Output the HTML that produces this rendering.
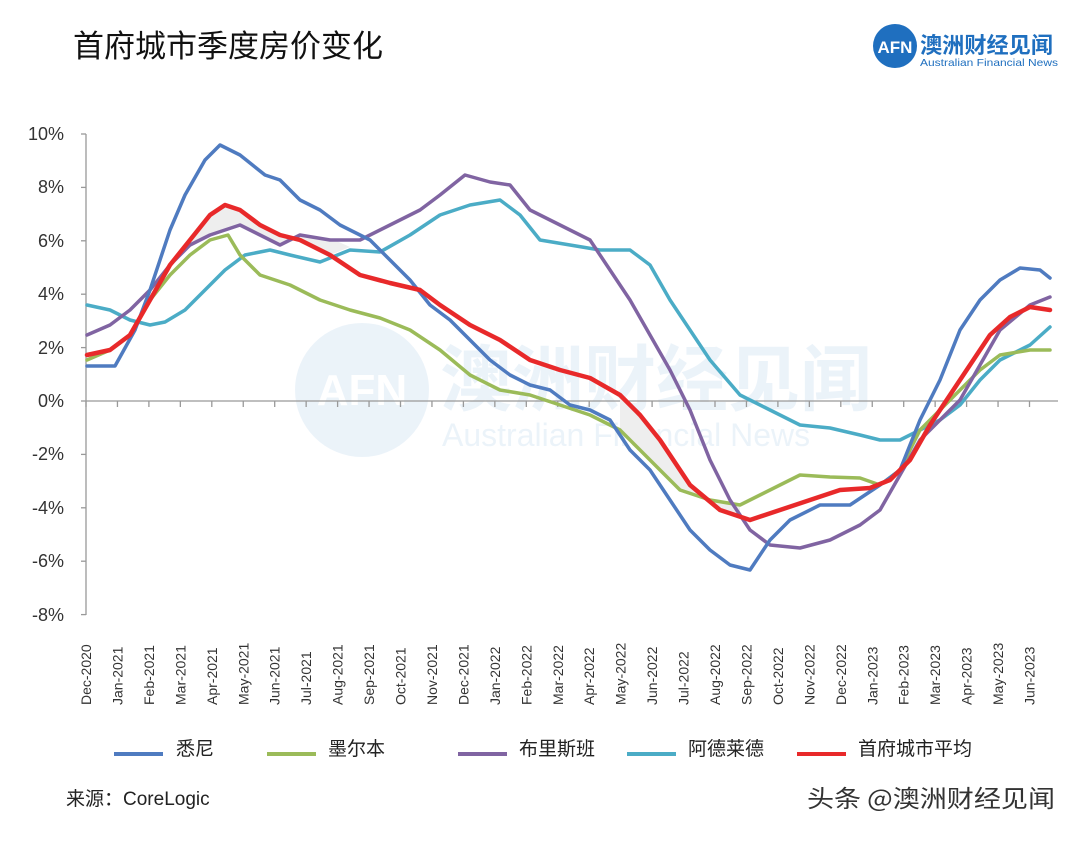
<!DOCTYPE html>
<html><head><meta charset="utf-8"><style>
body{margin:0;background:#fff;width:1080px;height:836px;overflow:hidden;font-family:"Liberation Sans","Noto Sans CJK SC",sans-serif;}
</style></head><body>
<svg width="1080" height="836" xmlns="http://www.w3.org/2000/svg" font-family="Liberation Sans, Noto Sans CJK SC, sans-serif">
<text x="73" y="57" font-size="31" fill="#111" font-family="Noto Sans CJK SC, sans-serif">首府城市季度房价变化</text>
<circle cx="895" cy="46" r="22" fill="#1f6fbf"/>
<text x="895" y="53" font-size="17" fill="#fff" text-anchor="middle" font-weight="bold">AFN</text>
<text x="920" y="53" font-size="22" fill="#1f6fbf" font-family="Noto Sans CJK SC, sans-serif" font-weight="bold" textLength="133" lengthAdjust="spacingAndGlyphs">澳洲财经见闻</text>
<text x="920" y="66" font-size="10.5" fill="#1f6fbf" textLength="138" lengthAdjust="spacingAndGlyphs">Australian Financial News</text>
<!-- watermark -->
<g opacity="0.16">
<circle cx="362" cy="390" r="67" fill="#8bb6e0"/>
<text x="362" y="405" font-size="44" fill="#fff" text-anchor="middle" font-weight="bold">AFN</text>
<text x="440" y="405" font-size="72" fill="#8bb6e0" font-family="Noto Sans CJK SC, sans-serif" font-weight="bold">澳洲财经见闻</text>
<text x="442" y="446" font-size="32" fill="#8bb6e0">Australian Financial News</text>
</g>
<g stroke="#999" stroke-width="1.3" fill="none">
<line x1="86" y1="134" x2="86" y2="615"/>
<line x1="86" y1="401" x2="1058" y2="401"/>
<line x1="81" y1="134" x2="86" y2="134"/><line x1="81" y1="187.4" x2="86" y2="187.4"/><line x1="81" y1="240.8" x2="86" y2="240.8"/><line x1="81" y1="294.2" x2="86" y2="294.2"/><line x1="81" y1="347.6" x2="86" y2="347.6"/><line x1="81" y1="401" x2="86" y2="401"/><line x1="81" y1="454.4" x2="86" y2="454.4"/><line x1="81" y1="507.8" x2="86" y2="507.8"/><line x1="81" y1="561.2" x2="86" y2="561.2"/><line x1="81" y1="614.6" x2="86" y2="614.6"/>
</g>
<g id="ticks" stroke="#999" stroke-width="1.3"></g>
<g font-size="18" fill="#333" text-anchor="end">
<text x="64" y="140">10%</text><text x="64" y="193">8%</text><text x="64" y="247">6%</text><text x="64" y="300">4%</text><text x="64" y="354">2%</text><text x="64" y="407">0%</text><text x="64" y="460">-2%</text><text x="64" y="514">-4%</text><text x="64" y="567">-6%</text><text x="64" y="621">-8%</text>
</g>
<g id="xl" font-size="14" fill="#333"></g>
<path d="M150,300 L170,265 190,240 210,215 225,205 240,210 260,225 280,235 300,240 330,255 L350,247 330,238 300,235 280,245 260,235 240,225 210,235 190,245 170,265 Z" fill="#eee"/>
<path d="M620,395 640,415 660,440 690,485 720,510 740,517 L740,505 710,500 680,490 650,460 620,430 Z" fill="#eee"/>
<g fill="none" stroke-width="3.5" stroke-linejoin="round" stroke-linecap="round">
<polyline stroke="#4bacc6" points="87,305 110,310 130,320 150,325 165,322 185,310 205,290 225,270 245,255 270,250 290,255 320,262 350,250 380,252 410,235 440,215 470,205 500,200 520,215 540,240 570,245 600,250 630,250 650,265 670,300 690,330 710,360 740,395 770,410 800,425 830,428 860,435 880,440 900,440 920,430 940,420 960,405 980,380 1000,360 1030,345 1050,327"/>
<polyline stroke="#9bbb59" points="87,360 110,350 130,335 150,300 170,275 190,255 210,240 228,235 240,255 260,275 290,285 320,300 350,310 380,318 410,330 440,350 470,375 500,390 530,395 560,405 590,415 620,430 650,460 680,490 710,500 740,505 760,495 780,485 800,475 830,477 860,478 880,485 900,470 920,430 940,410 960,390 980,370 1000,355 1030,350 1050,350"/>
<polyline stroke="#8064a2" points="87,335 110,325 130,310 150,290 170,265 190,245 210,235 240,225 260,235 280,245 300,235 330,240 360,240 390,225 420,210 440,195 465,175 490,182 510,185 530,210 560,225 590,240 610,270 630,300 650,335 670,370 690,410 710,460 730,500 750,530 770,545 800,548 830,540 860,525 880,510 900,475 920,440 940,420 960,400 980,365 1000,330 1030,305 1050,297"/>
<polyline stroke="#4f7bc0" points="87,366 115,366 135,330 150,290 170,230 185,195 205,160 220,145 240,155 265,175 280,180 300,200 320,210 340,225 370,240 390,260 410,280 430,305 450,320 470,340 490,360 510,375 530,385 550,390 570,405 590,410 610,420 630,450 650,470 670,500 690,530 710,550 730,565 750,570 770,540 790,520 820,505 850,505 880,485 900,470 920,420 940,380 960,330 980,300 1000,280 1020,268 1040,270 1050,278"/>
<polyline stroke="#e8292a" stroke-width="4.5" points="87,355 110,350 130,335 150,300 170,265 190,240 210,215 225,205 240,210 260,225 280,235 300,240 330,255 360,275 390,283 420,290 440,305 470,325 500,340 530,360 560,370 590,378 620,395 640,415 660,440 690,485 720,510 750,520 780,510 810,500 840,490 870,488 890,480 910,460 930,425 950,395 970,365 990,335 1010,317 1030,307 1050,310"/>
</g>
<g font-size="19" fill="#222" font-family="Noto Sans CJK SC, sans-serif">
<line x1="114" y1="754" x2="163" y2="754" stroke="#4f7bc0" stroke-width="4"/><text x="176" y="755">悉尼</text>
<line x1="267" y1="754" x2="316" y2="754" stroke="#9bbb59" stroke-width="4"/><text x="328" y="755">墨尔本</text>
<line x1="458" y1="754" x2="507" y2="754" stroke="#8064a2" stroke-width="4"/><text x="519" y="755">布里斯班</text>
<line x1="627" y1="754" x2="676" y2="754" stroke="#4bacc6" stroke-width="4"/><text x="688" y="755">阿德莱德</text>
<line x1="797" y1="754" x2="846" y2="754" stroke="#e8292a" stroke-width="4"/><text x="858" y="755">首府城市平均</text>
<text x="66" y="805" font-size="19">来源：<tspan font-family="Liberation Sans">CoreLogic</tspan></text>
<text x="807" y="807" font-size="24" fill="#333" textLength="248" lengthAdjust="spacingAndGlyphs">头条 @澳洲财经见闻</text>
</g>
</svg>
<script>
var m=["Dec-2020","Jan-2021","Feb-2021","Mar-2021","Apr-2021","May-2021","Jun-2021","Jul-2021","Aug-2021","Sep-2021","Oct-2021","Nov-2021","Dec-2021","Jan-2022","Feb-2022","Mar-2022","Apr-2022","May-2022","Jun-2022","Jul-2022","Aug-2022","Sep-2022","Oct-2022","Nov-2022","Dec-2022","Jan-2023","Feb-2023","Mar-2023","Apr-2023","May-2023","Jun-2023"];
var ns="http://www.w3.org/2000/svg",xl=document.getElementById("xl"),tk=document.getElementById("ticks");
for(var i=0;i<31;i++){var x=86+i*31.45;
var l=document.createElementNS(ns,"line");l.setAttribute("x1",x);l.setAttribute("x2",x);l.setAttribute("y1",401);l.setAttribute("y2",407);tk.appendChild(l);
var t=document.createElementNS(ns,"text");t.setAttribute("transform","translate("+(x+5)+",705) rotate(-90)");t.textContent=m[i];xl.appendChild(t);}
</script>
</body></html>
